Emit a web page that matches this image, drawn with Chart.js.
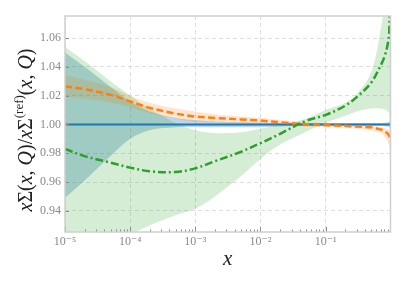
<!DOCTYPE html>
<html><head><meta charset="utf-8">
<script src="https://cdn.jsdelivr.net/npm/chart.js@4/dist/chart.umd.min.js"></script>
<style>html,body{margin:0;padding:0;background:#fff;}canvas{display:block;}</style>
</head><body>
<canvas id="c" width="407" height="285"></canvas>
<script>
// ---- data ----
const xs = [1e-5, 2e-5, 5e-5, 1e-4, 2e-4, 5e-4, 1e-3, 2e-3, 5e-3, 1e-2, 2e-2, 5e-2, 0.1, 0.2, 0.3, 0.5, 0.7, 0.8, 0.9, 0.95, 0.98];

const blueCentral = [1,1,1,1,1,1,1,1,1,1,1,1,1,1,1,1,1,1,1,1,1];
const blueUpper   = [1.050,1.040,1.026,1.016,1.009,1.0045,1.003,1.002,1.0015,1.0012,1.001,1.001,1.001,1.001,1.001,1.001,1.001,1.0012,1.0015,1.002,1.0025];
const blueLower   = [0.949,0.961,0.978,0.990,0.996,0.998,0.998,0.998,0.998,0.998,0.9985,0.999,0.999,0.999,0.999,0.999,0.999,0.9988,0.9985,0.998,0.9975];

const orangeCentral = [1.0265,1.0245,1.0205,1.016,1.0115,1.0075,1.0055,1.0045,1.0035,1.0027,1.0015,1.0,0.9995,0.999,0.9985,0.998,0.9965,0.9955,0.9935,0.992,0.9905];
const orangeUpper   = [1.034,1.031,1.026,1.020,1.015,1.011,1.009,1.007,1.0055,1.0045,1.003,1.0015,1.0005,1.0,0.9995,0.999,0.998,0.9975,0.9965,0.996,0.996];
const orangeLower   = [1.019,1.018,1.015,1.012,1.008,1.004,1.002,1.0015,1.001,1.001,1.0,0.9985,0.998,0.9975,0.997,0.996,0.994,0.992,0.988,0.985,0.982];

const greenCentral = [0.983,0.978,0.9735,0.970,0.9675,0.967,0.9695,0.9745,0.981,0.987,0.9935,1.0025,1.0066,1.013,1.019,1.029,1.041,1.047,1.056,1.066,1.12];
const greenUpper   = [1.054,1.044,1.030,1.020,1.011,1.001,0.996,0.994,0.9945,0.997,1.0,1.004,1.010,1.015,1.021,1.036,1.066,1.085,1.12,1.16,1.25];
const greenLower   = [0.880,0.897,0.914,0.923,0.930,0.937,0.9415,0.950,0.964,0.976,0.986,0.995,1.001,1.006,1.009,1.011,1.011,1.0105,1.009,1.007,0.957];

const xMajorTicks = [1e-5, 1e-4, 1e-3, 1e-2, 1e-1];
const xTickLabels = ['10\u207B\u2075', '10\u207B\u2074', '10\u207B\u00B3', '10\u207B\u00B2', '10\u207B\u00B9'];
const yTicks = [0.94, 0.96, 0.98, 1.00, 1.02, 1.04, 1.06];
const yTickLabels = ['0.94', '0.96', '0.98', '1.00', '1.02', '1.04', '1.06'];

// ---- helpers ----
const pts = ys => xs.map((x, i) => ({x: x, y: ys[i]}));
const BLUE = '#1f77b4', ORANGE = '#ff7f0e', GREEN = '#2ca02c';
const TENSION = 0.35;
function band(ys, color, fillTarget, order) {
  return {data: pts(ys), borderWidth: 0, pointRadius: 0, backgroundColor: color,
          fill: fillTarget === null ? false : {target: fillTarget}, tension: TENSION, order: order};
}
function line(ys, color, width, dash, order) {
  return {data: pts(ys), borderColor: color, borderWidth: width, borderDash: dash, pointRadius: 0,
          fill: false, tension: TENSION, order: order};
}

const datasets = [
  band(blueUpper, 'rgba(31,119,180,0.30)', 1, 9),      // 0
  band(blueLower, 'rgba(0,0,0,0)', null, 9),            // 1
  band(orangeUpper, 'rgba(255,127,14,0.20)', 3, 8),     // 2
  band(orangeLower, 'rgba(0,0,0,0)', null, 8),          // 3
  band(greenUpper, 'rgba(44,160,44,0.20)', 5, 7),       // 4
  band(greenLower, 'rgba(0,0,0,0)', null, 7),           // 5
  line(blueCentral, BLUE, 2, [], 3),
  line(orangeCentral, ORANGE, 2.5, [7, 3.5], 2),
  line(greenCentral, GREEN, 2.5, [8, 3, 2, 3], 1)
];

const SERIF = "'Liberation Serif', 'DejaVu Serif', serif";

const decor = {
  id: 'decor',
  afterDraw(chart) {
    const {ctx, chartArea: a, scales} = chart;
    const xS = scales.x, yS = scales.y;
    ctx.save();
    // tick marks (inside)
    ctx.strokeStyle = '#8c8c8c';
    ctx.lineWidth = 1;
    ctx.beginPath();
    for (let d = -5; d <= -1; d++) {
      for (let m = 1; m <= 9; m++) {
        const v = m * Math.pow(10, d);
        if (v > xS.max) continue;
        const px = Math.round(xS.getPixelForValue(v)) + 0.5;
        const len = m === 1 ? 5 : 2.5;
        ctx.moveTo(px, a.bottom); ctx.lineTo(px, a.bottom - len);
      }
    }
    yTicks.forEach(v => {
      const py = Math.round(yS.getPixelForValue(v)) + 0.5;
      ctx.moveTo(a.left, py); ctx.lineTo(a.left + 4, py);
    });
    ctx.stroke();
    // frame
    ctx.strokeStyle = '#cfcfcf';
    ctx.lineWidth = 1.5;
    ctx.strokeRect(a.left, a.top, a.right - a.left, a.bottom - a.top);
    // x title
    ctx.fillStyle = '#222';
    ctx.font = "italic 21px " + SERIF;
    ctx.textAlign = 'center';
    ctx.textBaseline = 'middle';
    ctx.fillText('x', (a.left + a.right) / 2, 259);
    // y title (rich text, rotated)
    const parts = [
      ['x', 'i'], ['\u03A3', 'n'], ['(', 'n'], ['x', 'i'], [', ', 'n'], ['Q', 'i'], [')/', 'n'],
      ['x', 'i'], ['\u03A3', 'n'], ['(ref)', 's'], ['(', 'n'], ['x', 'i'], [', ', 'n'], ['Q', 'i'], [')', 'n']
    ];
    const fontOf = t => t === 'i' ? "italic 20px " + SERIF : (t === 's' ? "13px " + SERIF : "20px " + SERIF);
    let total = 0;
    parts.forEach(p => { ctx.font = fontOf(p[1]); total += ctx.measureText(p[0]).width; });
    ctx.translate(25, 130);
    ctx.rotate(-Math.PI / 2);
    ctx.textAlign = 'left';
    ctx.textBaseline = 'alphabetic';
    let cx = -total / 2;
    parts.forEach(p => {
      ctx.font = fontOf(p[1]);
      ctx.fillText(p[0], cx, p[1] === 's' ? -2 : 6.5);
      cx += ctx.measureText(p[0]).width;
    });
    ctx.restore();
  }
};

new Chart(document.getElementById('c'), {
  type: 'line',
  data: {datasets: datasets},
  plugins: [decor],
  options: {
    responsive: false,
    devicePixelRatio: 1,
    animation: false,
    events: [],
    layout: {padding: {left: 0, right: 16.5, top: 16, bottom: 0}},
    plugins: {legend: {display: false}, tooltip: {enabled: false}},
    scales: {
      x: {
        type: 'logarithmic', min: 1e-5, max: 0.99,
        afterBuildTicks: s => { s.ticks = xMajorTicks.map(v => ({value: v})); },
        afterFit: s => { s.height = 53; },
        ticks: {callback: (v, i) => xTickLabels[i], color: '#8a8a8a', font: {family: SERIF, size: 12},
                maxRotation: 0, autoSkip: false, padding: 3},
        grid: {color: '#dedede', lineWidth: 1, drawTicks: false},
        border: {display: false, dash: [4, 3]}
      },
      y: {
        type: 'linear', min: 0.9253, max: 1.0753,
        afterBuildTicks: s => { s.ticks = yTicks.map(v => ({value: v})); },
        afterFit: s => { s.width = 65; },
        ticks: {callback: (v, i) => yTickLabels[i], color: '#8a8a8a', font: {family: SERIF, size: 12}, padding: 4},
        grid: {color: '#dedede', lineWidth: 1, drawTicks: false},
        border: {display: false, dash: [4, 3]}
      }
    }
  }
});
</script>
</body></html>
